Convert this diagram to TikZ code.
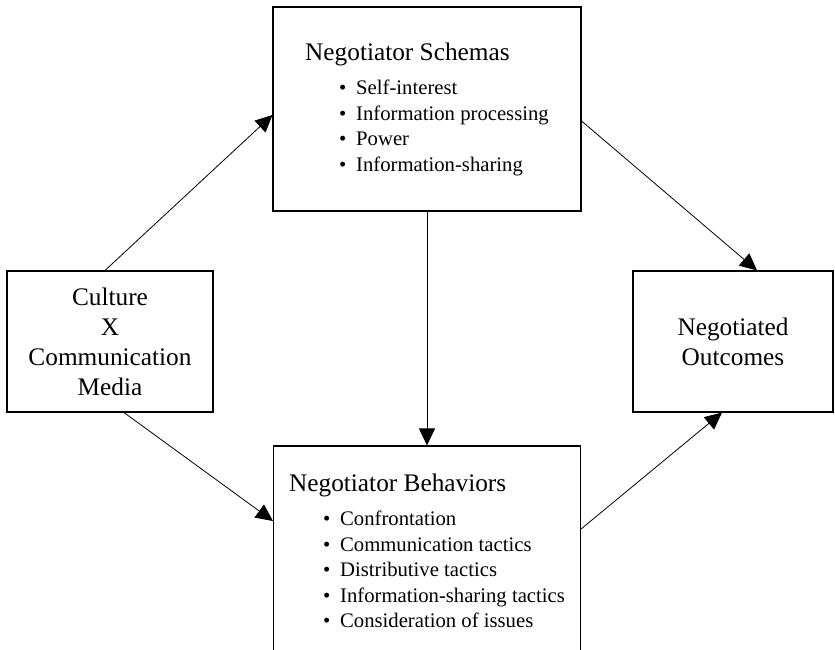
\documentclass[tikz,border=0pt]{standalone}
\usepackage{fontspec}
\setmainfont{Liberation Serif}
\usetikzlibrary{arrows.meta, positioning, calc}

\newcommand{\bitem}[1]{\hspace*{34pt}\makebox[17pt][l]{\textbullet}#1}

\begin{document}
\begin{tikzpicture}[
    x=1pt, y=1pt,
    nbox/.style={rectangle, draw, line width=1.1pt, inner sep=0pt, align=center},
    listfont/.style={font=\fontsize{20.7}{25.5}\selectfont},
    bigfont/.style={font=\fontsize{25.3}{30}\selectfont},
    narrow/.style={-{Triangle[length=17pt, width=16pt]}, line width=0.8pt}
]
\useasboundingbox (0,0) rectangle (835,-649);
\node[nbox, bigfont, minimum width=206pt, minimum height=141pt] (culture) at (110,-341.5)
    {Culture\\X\\Communication\\Media};
\node[nbox, listfont, align=left, minimum width=308pt, minimum height=204pt] (schemas) at (427,-109)
    {{\fontsize{25.3}{25.5}\selectfont Negotiator Schemas}\\[9pt]
     \bitem{Self-interest}\\
     \bitem{Information processing}\\
     \bitem{Power}\\
     \bitem{Information-sharing}};
\node[nbox, listfont, align=left, minimum width=307pt, minimum height=210pt] (behaviors) at (427,-551)
    {{\fontsize{25.3}{25.5}\selectfont Negotiator Behaviors}\\[9pt]
     \bitem{Confrontation}\\
     \bitem{Communication tactics}\\
     \bitem{Distributive tactics}\\
     \bitem{Information-sharing tactics}\\
     \bitem{Consideration of issues}};
\node[nbox, bigfont, minimum width=200pt, minimum height=141pt] (outcomes) at (733,-341.5)
    {Negotiated\\Outcomes};
\draw[narrow] ([xshift=-5pt]culture.north) -- ([yshift=-6pt]schemas.west);
\draw[narrow] ([xshift=14pt]culture.south) -- ([yshift=30pt]behaviors.west);
\draw[narrow] (schemas.south) -- (behaviors.north);
\draw[narrow] ([yshift=-12pt]schemas.east) -- ([xshift=24pt]outcomes.north);
\draw[narrow] ([yshift=22pt]behaviors.east) -- ([xshift=-11pt]outcomes.south);
\end{tikzpicture}
\end{document}
